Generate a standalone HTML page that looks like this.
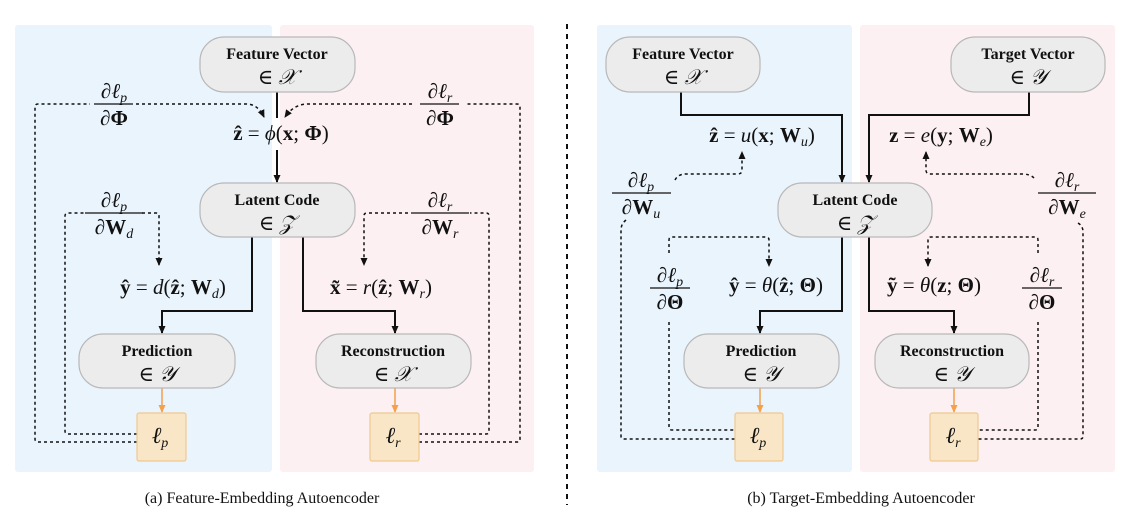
<!DOCTYPE html>
<html><head><meta charset="utf-8"><style>
html,body{margin:0;padding:0;background:#fff;}
svg{display:block;}
.n{font-family:"Liberation Serif",serif;font-weight:bold;font-size:16px;text-anchor:middle;fill:#111;}
.m{font-family:"Liberation Serif","DejaVu Serif",serif;font-size:21px;text-anchor:middle;fill:#111;}
.i{font-style:italic;}
.b{font-weight:bold;}
.c{font-family:"Liberation Serif",serif;font-size:16px;text-anchor:middle;fill:#111;}
.s{font-size:14px;font-style:italic;}
</style></head><body>
<svg width="1134" height="513" viewBox="0 0 1134 513" xmlns="http://www.w3.org/2000/svg">
<defs>
<marker id="a" markerWidth="8" markerHeight="8" refX="7" refY="4" orient="auto" markerUnits="userSpaceOnUse"><path d="M0,0.5 L8,4 L0,7.5 z" fill="#111"/></marker>
<marker id="o" markerWidth="8" markerHeight="8" refX="7" refY="4" orient="auto" markerUnits="userSpaceOnUse"><path d="M0,0.5 L8,4 L0,7.5 z" fill="#f5a04a"/></marker>
</defs>
<rect x="15" y="25" width="257" height="447" rx="3" fill="#eaf4fd"/>
<rect x="280" y="25" width="254" height="447" rx="3" fill="#fcf0f2"/>
<rect x="597" y="25" width="255" height="447" rx="3" fill="#eaf4fd"/>
<rect x="860" y="25" width="255" height="447" rx="3" fill="#fcf0f2"/>
<line x1="567" y1="24" x2="567" y2="505" stroke="#111" stroke-width="2" stroke-dasharray="5,5"/>

<g fill="none" stroke="#111">
<line x1="277" y1="92" x2="277" y2="118" stroke-width="2"/>
<line x1="277" y1="150" x2="277" y2="182" stroke-width="2" marker-end="url(#a)"/>
<polyline points="252,237 252,311 162,311 162,333" stroke-width="2" marker-end="url(#a)"/>
<polyline points="303,237 303,311 395,311 395,333" stroke-width="2" marker-end="url(#a)"/>
<g stroke-width="1.5" stroke-dasharray="3,3">
<path d="M137,442 H38 Q35,442 35,439 V107 Q35,104 38,104 H90"/>
<path d="M136,104 H246 Q258,104 264,117" marker-end="url(#a)"/>
<path d="M137,434 H68 Q65,434 65,431 V216 Q65,213 68,213 H85"/>
<path d="M142,213 H156 Q159,213 159,216 V265" marker-end="url(#a)"/>
<path d="M419,442 H517 Q520,442 520,439 V107 Q520,104 517,104 H467"/>
<path d="M412,104 H308 Q294,104 285,117" marker-end="url(#a)"/>
<path d="M419,434 H486 Q489,434 489,431 V216 Q489,213 486,213 H470"/>
<path d="M408,213 H367 Q364,213 364,216 V265" marker-end="url(#a)"/>
</g>
<line x1="162" y1="388" x2="162" y2="412" stroke="#f5a04a" stroke-width="1.5" marker-end="url(#o)"/>
<line x1="395" y1="388" x2="395" y2="412" stroke="#f5a04a" stroke-width="1.5" marker-end="url(#o)"/>

<polyline points="681,92 681,115 842,115 842,182" stroke-width="2" marker-end="url(#a)"/>
<polyline points="1029,92 1029,115 869,115 869,182" stroke-width="2" marker-end="url(#a)"/>
<polyline points="842,237 842,311 760,311 760,333" stroke-width="2" marker-end="url(#a)"/>
<polyline points="869,237 869,311 954,311 954,333" stroke-width="2" marker-end="url(#a)"/>
<line x1="760" y1="388" x2="760" y2="412" stroke="#f5a04a" stroke-width="1.5" marker-end="url(#o)"/>
<line x1="954" y1="388" x2="954" y2="412" stroke="#f5a04a" stroke-width="1.5" marker-end="url(#o)"/>
<g stroke-width="1.5" stroke-dasharray="3,3">
<path d="M675,180 Q678,174 686,174 H738 Q742,174 742,170 V152" marker-end="url(#a)"/>
<path d="M626,220 Q621,224 621,230 V436 Q621,439 624,439 H735"/>
<path d="M669,322 V427 Q669,430 672,430 H735"/>
<path d="M669,253 V240 Q669,237 672,237 H766 Q769,237 769,240 V266" marker-end="url(#a)"/>
<path d="M1034,178 Q1030,174 1022,174 H930 Q926,174 926,170 V152" marker-end="url(#a)"/>
<path d="M1078,223 Q1083,226 1083,232 V436 Q1083,439 1080,439 H978"/>
<path d="M1038,322 V427 Q1038,430 1035,430 H978"/>
<path d="M1038,253 V240 Q1038,237 1035,237 H931 Q928,237 928,240 V266" marker-end="url(#a)"/>
</g>
</g>

<g fill="#ececec" stroke="#b8b8b8" stroke-width="1.2">
<rect x="200" y="37" width="155" height="55" rx="24"/>
<rect x="200" y="183" width="155" height="54" rx="24"/>
<rect x="79" y="334" width="156" height="54" rx="24"/>
<rect x="316" y="334" width="155" height="54" rx="24"/>
<rect x="606" y="37" width="154" height="55" rx="24"/>
<rect x="951" y="37" width="154" height="55" rx="24"/>
<rect x="778" y="183" width="154" height="54" rx="24"/>
<rect x="684" y="334" width="155" height="54" rx="24"/>
<rect x="875" y="334" width="154" height="54" rx="24"/>
</g>
<g fill="#f8e6c6" stroke="#f0c890" stroke-width="1.2">
<rect x="137" y="413" width="49" height="48" rx="2"/>
<rect x="370" y="413" width="49" height="48" rx="2"/>
<rect x="735" y="413" width="48" height="48" rx="2"/>
<rect x="930" y="413" width="48" height="48" rx="2"/>
</g>

<text class="n" x="277" y="59">Feature Vector</text><text class="m" x="277" y="84">∈ <tspan class="i">𝒳</tspan></text>
<text class="n" x="277" y="205">Latent Code</text><text class="m" x="277" y="230">∈ <tspan class="i">𝒵</tspan></text>
<text class="n" x="157" y="356">Prediction</text><text class="m" x="157" y="381">∈ <tspan class="i">𝒴</tspan></text>
<text class="n" x="393" y="356">Reconstruction</text><text class="m" x="393" y="381">∈ <tspan class="i">𝒳</tspan></text>
<text class="n" x="683" y="59">Feature Vector</text><text class="m" x="683" y="84">∈ <tspan class="i">𝒳</tspan></text>
<text class="n" x="1028" y="59">Target Vector</text><text class="m" x="1028" y="84">∈ <tspan class="i">𝒴</tspan></text>
<text class="n" x="855" y="205">Latent Code</text><text class="m" x="855" y="230">∈ <tspan class="i">𝒵</tspan></text>
<text class="n" x="761" y="356">Prediction</text><text class="m" x="761" y="381">∈ <tspan class="i">𝒴</tspan></text>
<text class="n" x="952" y="356">Reconstruction</text><text class="m" x="952" y="381">∈ <tspan class="i">𝒴</tspan></text>
<text class="m i" x="160" y="443" style="font-size:23px">ℓ<tspan class="s" dy="4">p</tspan></text>
<text class="m i" x="393" y="443" style="font-size:23px">ℓ<tspan class="s" dy="4">r</tspan></text>
<text class="m i" x="758" y="443" style="font-size:23px">ℓ<tspan class="s" dy="4">p</tspan></text>
<text class="m i" x="953" y="443" style="font-size:23px">ℓ<tspan class="s" dy="4">r</tspan></text>

<text class="m" x="281" y="140"><tspan class="b">ẑ</tspan> = <tspan class="i">ϕ</tspan>(<tspan class="b">x</tspan>; <tspan class="b">Φ</tspan>)</text>
<text class="m" x="173" y="294"><tspan class="b">ŷ</tspan> = <tspan class="i">d</tspan>(<tspan class="b">ẑ</tspan>; <tspan class="b">W</tspan><tspan class="s" dy="4">d</tspan><tspan dy="-4">)</tspan></text>
<text class="m" x="381" y="294"><tspan class="b">x̃</tspan> = <tspan class="i">r</tspan>(<tspan class="b">ẑ</tspan>; <tspan class="b">W</tspan><tspan class="s" dy="4">r</tspan><tspan dy="-4">)</tspan></text>
<text class="m" x="762" y="142"><tspan class="b">ẑ</tspan> = <tspan class="i">u</tspan>(<tspan class="b">x</tspan>; <tspan class="b">W</tspan><tspan class="s" dy="4">u</tspan><tspan dy="-4">)</tspan></text>
<text class="m" x="941" y="142"><tspan class="b">z</tspan> = <tspan class="i">e</tspan>(<tspan class="b">y</tspan>; <tspan class="b">W</tspan><tspan class="s" dy="4">e</tspan><tspan dy="-4">)</tspan></text>
<text class="m" x="776" y="292"><tspan class="b">ŷ</tspan> = <tspan class="i">θ</tspan>(<tspan class="b">ẑ</tspan>; <tspan class="b">Θ</tspan>)</text>
<text class="m" x="934" y="292"><tspan class="b">ỹ</tspan> = <tspan class="i">θ</tspan>(<tspan class="b">z</tspan>; <tspan class="b">Θ</tspan>)</text>

<g stroke="#111" stroke-width="1.3">
<line x1="94" y1="104" x2="133" y2="104"/>
<line x1="420" y1="104" x2="459" y2="104"/>
<line x1="85" y1="213" x2="143" y2="213"/>
<line x1="411" y1="213" x2="469" y2="213"/>
<line x1="612" y1="193" x2="671" y2="193"/>
<line x1="1038" y1="193" x2="1096" y2="193"/>
<line x1="650" y1="288" x2="690" y2="288"/>
<line x1="1022" y1="288" x2="1062" y2="288"/>
</g>
<text class="m" x="114" y="98">∂<tspan class="i">ℓ</tspan><tspan class="s" dy="4">p</tspan></text>
<text class="m b" x="114" y="125">∂Φ</text>
<text class="m" x="440" y="98">∂<tspan class="i">ℓ</tspan><tspan class="s" dy="4">r</tspan></text>
<text class="m b" x="440" y="125">∂Φ</text>
<text class="m" x="114" y="207">∂<tspan class="i">ℓ</tspan><tspan class="s" dy="4">p</tspan></text>
<text class="m" x="114" y="234">∂<tspan class="b">W</tspan><tspan class="s" dy="4">d</tspan></text>
<text class="m" x="440" y="207">∂<tspan class="i">ℓ</tspan><tspan class="s" dy="4">r</tspan></text>
<text class="m" x="440" y="234">∂<tspan class="b">W</tspan><tspan class="s" dy="4">r</tspan></text>
<text class="m" x="641" y="187">∂<tspan class="i">ℓ</tspan><tspan class="s" dy="4">p</tspan></text>
<text class="m" x="641" y="214">∂<tspan class="b">W</tspan><tspan class="s" dy="4">u</tspan></text>
<text class="m" x="1067" y="187">∂<tspan class="i">ℓ</tspan><tspan class="s" dy="4">r</tspan></text>
<text class="m" x="1067" y="214">∂<tspan class="b">W</tspan><tspan class="s" dy="4">e</tspan></text>
<text class="m" x="670" y="282">∂<tspan class="i">ℓ</tspan><tspan class="s" dy="4">p</tspan></text>
<text class="m b" x="670" y="309">∂Θ</text>
<text class="m" x="1042" y="282">∂<tspan class="i">ℓ</tspan><tspan class="s" dy="4">r</tspan></text>
<text class="m b" x="1042" y="309">∂Θ</text>

<text class="c" x="262" y="503">(a) Feature-Embedding Autoencoder</text>
<text class="c" x="861" y="503">(b) Target-Embedding Autoencoder</text>
</svg>
</body></html>
